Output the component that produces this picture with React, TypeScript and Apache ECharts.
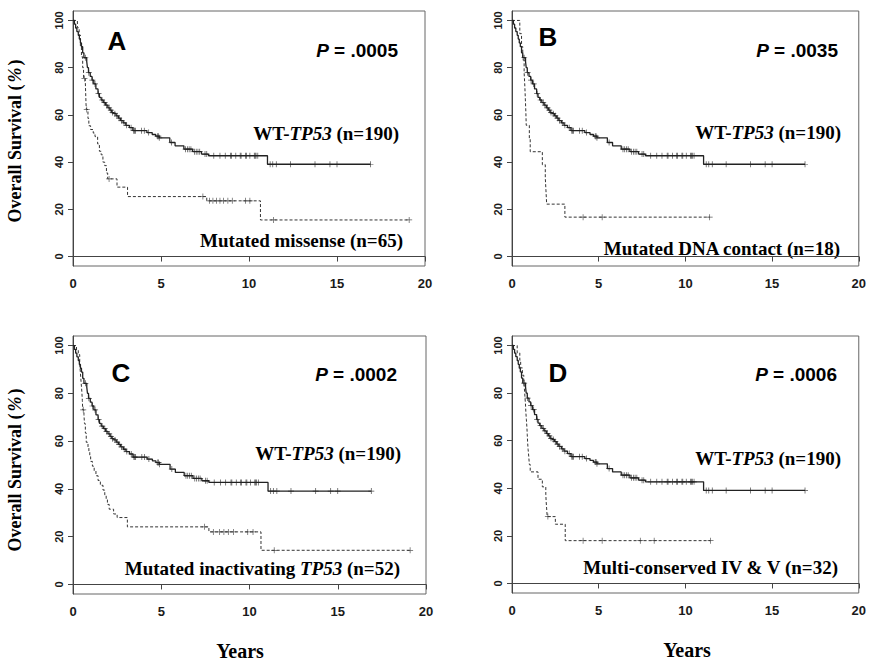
import React, { useEffect, useRef } from "react";
import * as echarts from "echarts";

// ---------- data ----------
const wtTimes = [0, 0.08, 0.15, 0.22, 0.3, 0.36, 0.42, 0.48, 0.55, 0.62, 0.78, 0.82, 0.88, 0.98, 1.08, 1.18, 1.3, 1.42, 1.5, 1.6, 1.72, 1.85, 1.98, 2.1, 2.2, 2.32, 2.45, 2.58, 2.7, 2.85, 3.0, 3.2, 3.4, 4.2, 4.5, 4.7, 4.9, 5.5, 5.8, 6.3, 6.8, 7.3, 7.7, 11.05];
const wtSurv = [100, 98.4, 96.8, 95.3, 93.7, 92.1, 90.5, 88.9, 86.3, 84.2, 82.6, 80.0, 77.9, 76.3, 74.7, 73.1, 71.0, 69.0, 67.4, 66.3, 65.2, 64.1, 63.0, 62.0, 61.0, 60.5, 59.6, 58.6, 57.6, 56.6, 55.6, 54.6, 53.3, 52.5, 51.7, 51.0, 50.3, 48.3, 46.9, 45.5, 44.4, 43.4, 42.7, 39.1];
const wtEnd = 16.9;
const wtCensor = [0.7, 0.9, 1.1, 1.25, 1.45, 1.65, 1.8, 1.9, 2.05, 2.15, 2.25, 2.38, 2.5, 2.62, 2.75, 2.9, 3.05, 3.3, 3.45, 3.5, 3.55, 3.9, 4.05, 4.3, 4.8, 4.85, 4.9, 5.6, 6.4, 6.5, 6.6, 6.7, 6.9, 7.0, 7.1, 7.2, 7.5, 7.6, 8.0, 8.35, 8.65, 8.95, 9.0, 9.25, 9.5, 9.55, 9.8, 9.85, 10.05, 10.3, 10.35, 10.4, 10.5, 11.2, 11.35, 11.55, 12.35, 13.75, 14.6, 15.0, 16.9];

const missTimes = [0, 0.25, 0.35, 0.42, 0.48, 0.55, 0.6, 0.7, 0.72, 0.74, 0.76, 0.85, 0.9, 1.0, 1.15, 1.25, 1.4, 1.5, 1.6, 1.7, 1.8, 1.9, 1.97, 2.5, 3.1, 7.6, 10.65];
const missSurv = [100, 96.9, 93.8, 89.2, 84.6, 80.0, 75.4, 73.8, 69.2, 64.6, 62.3, 58.5, 55.4, 53.8, 52.3, 50.8, 47.7, 44.6, 43.1, 40.0, 38.5, 35.4, 32.9, 29.4, 25.4, 23.6, 15.5];
const missEnd = 19.1;
const missCensor = [0.65, 0.78, 2.05, 7.38, 7.75, 7.95, 8.15, 8.35, 8.55, 8.8, 9.05, 9.8, 10.05, 11.4, 19.1];

const dnaTimes = [0, 0.45, 0.55, 0.62, 0.7, 0.74, 0.77, 0.8, 0.82, 1.0, 1.05, 1.75, 1.92, 1.96, 2.0, 3.05];
const dnaSurv = [100, 94.4, 88.9, 83.3, 77.8, 72.2, 66.7, 61.1, 55.6, 50.0, 44.4, 38.9, 33.3, 27.8, 22.2, 16.7];
const dnaEnd = 11.4;
const dnaCensor = [4.1, 5.2, 11.4];

const inactTimes = [0, 0.2, 0.3, 0.38, 0.42, 0.46, 0.5, 0.53, 0.55, 0.62, 0.65, 0.7, 0.75, 0.85, 0.9, 0.95, 1.0, 1.1, 1.2, 1.3, 1.42, 1.55, 1.7, 1.8, 1.88, 1.95, 2.05, 2.3, 2.5, 3.08, 7.7, 10.65];
const inactSurv = [100, 98.1, 96.2, 92.3, 88.5, 84.6, 80.8, 76.9, 73.1, 71.2, 67.3, 63.4, 59.5, 57.5, 55.5, 53.5, 51.5, 49.5, 47.5, 45.5, 43.5, 41.5, 39.5, 37.5, 35.5, 33.5, 31.5, 29.5, 28.0, 24.1, 22.0, 14.3];
const inactEnd = 19.1;
const inactCensor = [0.58, 7.45, 7.95, 8.3, 8.55, 8.8, 9.1, 9.9, 10.2, 11.4, 19.1];

const multiTimes = [0, 0.3, 0.45, 0.5, 0.6, 0.68, 0.72, 0.75, 0.78, 0.8, 0.83, 0.86, 0.88, 0.9, 0.93, 0.97, 1.0, 1.05, 1.5, 1.75, 1.95, 1.97, 2.0, 2.03, 2.5, 3.07];
const multiSurv = [100, 96.9, 93.8, 90.6, 87.5, 84.4, 81.3, 78.1, 75.0, 71.9, 68.8, 65.6, 62.5, 59.4, 56.3, 53.1, 50.0, 46.9, 43.8, 40.6, 37.5, 34.4, 31.3, 28.1, 24.9, 18.0];
const multiEnd = 11.45;
const multiCensor = [2.07, 4.1, 5.2, 7.4, 8.2, 11.45];

const panelLetters = ["A", "B", "C", "D"];
const pValues = [".0005", ".0035", ".0002", ".0006"];
const wtLabel = "{b|WT-}{i|TP53}{b| (n=190)}";
const mutLabels = [
  "{b|Mutated missense (n=65)}",
  "{b|Mutated DNA contact (n=18)}",
  "{b|Mutated inactivating }{i|TP53}{b| (n=52)}",
  "{b|Multi-conserved IV & V (n=32)}",
];
const yTitle = "{b|Overall Survival (}{i|%}{b|)}";
const xTitle = "Years";
const xTicks = [0, 5, 10, 15, 20];
const yTicks = [0, 20, 40, 60, 80, 100];

// ---------- helpers ----------
function stepData(times: number[], surv: number[], end: number) {
  const d = times.map((t, i) => [t, surv[i]]);
  d.push([end, surv[surv.length - 1]]);
  return d;
}
function survAt(times: number[], surv: number[], t: number) {
  let s = surv[0];
  for (let i = 0; i < times.length; i++) if (times[i] <= t) s = surv[i];
  return s;
}
function censorData(times: number[], surv: number[], cens: number[]) {
  return cens.map((t) => [t, survAt(times, surv, t)]);
}

const muts = [
  { times: missTimes, surv: missSurv, end: missEnd, cens: missCensor },
  { times: dnaTimes, surv: dnaSurv, end: dnaEnd, cens: dnaCensor },
  { times: inactTimes, surv: inactSurv, end: inactEnd, cens: inactCensor },
  { times: multiTimes, surv: multiSurv, end: multiEnd, cens: multiCensor },
];

const grids = [
  { left: 73, top: 11, width: 352, height: 255 },
  { left: 512, top: 11, width: 355, height: 255 },
  { left: 73, top: 336, width: 353, height: 258 },
  { left: 512, top: 336, width: 355, height: 257 },
];

const PLUS = "path://M4.4,0h1.2v4.4h4.4v1.2h-4.4v4.4h-1.2v-4.4h-4.4v-1.2h4.4z";
const SANS = "'Liberation Sans', Arial, sans-serif";
const SERIF = "'Liberation Serif', 'Times New Roman', serif";
const INK = "#1a1a1a";

const letterPos = [[117, 41], [548, 37], [121, 373], [558, 373]];
const pPos = [[398, 50], [838, 50], [397, 374], [837, 374]];
const wtPos = [[399, 133], [841, 132], [401, 453], [841, 458]];
const mutPos = [[403, 240], [840, 248], [400, 568], [838, 567]];
const yTitlePos = [[15, 141], [15, 470]];
const xTitlePos = [[240, 651], [687, 650]];

function buildOption() {
  const xAxis: any[] = [];
  const yAxis: any[] = [];
  const series: any[] = [];
  const graphic: any[] = [];

  const rich = {
    b: { fontFamily: SERIF, fontWeight: "bold", fontSize: 19, fill: "#000" },
    i: { fontFamily: SERIF, fontWeight: "bold", fontStyle: "italic", fontSize: 19, fill: "#000" },
  };

  grids.forEach((g, i) => {
    xAxis.push({
      type: "value",
      gridIndex: i,
      min: 0,
      max: 20,
      interval: 5,
      axisLine: { show: true, lineStyle: { color: "#444", width: 1 } },
      axisTick: { show: true, length: 5, lineStyle: { color: "#444" } },
      axisLabel: {
        show: true,
        margin: 11,
        fontFamily: SANS,
        fontWeight: "bold",
        fontSize: 13,
        color: INK,
        customValues: xTicks,
      },
      splitLine: { show: false },
    });
    yAxis.push({
      type: "value",
      gridIndex: i,
      min: -4,
      max: 104,
      axisLine: { show: true, lineStyle: { color: "#444", width: 1 } },
      axisTick: { show: true, length: 5, lineStyle: { color: "#444" }, customValues: yTicks },
      axisLabel: {
        show: true,
        rotate: 90,
        margin: 9,
        fontFamily: SANS,
        fontWeight: "bold",
        fontSize: 11,
        color: INK,
        customValues: yTicks,
      },
      splitLine: { show: false },
    });

    series.push({
      type: "line",
      xAxisIndex: i,
      yAxisIndex: i,
      step: "end",
      showSymbol: false,
      symbol: "none",
      lineStyle: { color: "#222", width: 1.3 },
      data: stepData(wtTimes, wtSurv, wtEnd),
      z: 3,
    });
    series.push({
      type: "scatter",
      xAxisIndex: i,
      yAxisIndex: i,
      symbol: PLUS,
      symbolSize: 6,
      itemStyle: { color: "#222" },
      data: censorData(wtTimes, wtSurv, wtCensor),
      z: 4,
    });
    const m = muts[i];
    series.push({
      type: "line",
      xAxisIndex: i,
      yAxisIndex: i,
      step: "end",
      showSymbol: false,
      symbol: "none",
      lineStyle: { color: "#333", width: 1, type: [3, 2] },
      data: stepData(m.times, m.surv, m.end),
      z: 2,
    });
    series.push({
      type: "scatter",
      xAxisIndex: i,
      yAxisIndex: i,
      symbol: PLUS,
      symbolSize: 6,
      itemStyle: { color: "#333" },
      data: censorData(m.times, m.surv, m.cens),
      z: 4,
    });

    graphic.push({
      type: "text",
      x: letterPos[i][0],
      y: letterPos[i][1],
      style: {
        text: panelLetters[i],
        fill: "#000",
        fontFamily: SANS,
        fontWeight: "bold",
        fontSize: 26,
        textAlign: "center",
        textVerticalAlign: "middle",
      },
    });
    graphic.push({
      type: "text",
      x: pPos[i][0],
      y: pPos[i][1],
      style: {
        text: "{pi|P}{pb| = " + pValues[i] + "}",
        textAlign: "right",
        textVerticalAlign: "middle",
        rich: {
          pi: { fontFamily: SANS, fontWeight: "bold", fontStyle: "italic", fontSize: 19, fill: "#000" },
          pb: { fontFamily: SANS, fontWeight: "bold", fontSize: 19, fill: "#000" },
        },
      },
    });
    graphic.push({
      type: "text",
      x: wtPos[i][0],
      y: wtPos[i][1],
      style: { text: wtLabel, textAlign: "right", textVerticalAlign: "middle", rich },
    });
    graphic.push({
      type: "text",
      x: mutPos[i][0],
      y: mutPos[i][1],
      style: { text: mutLabels[i], textAlign: "right", textVerticalAlign: "middle", rich },
    });
  });

  yTitlePos.forEach((p) => {
    graphic.push({
      type: "text",
      x: p[0],
      y: p[1],
      rotation: Math.PI / 2,
      style: {
        text: yTitle,
        textAlign: "center",
        textVerticalAlign: "middle",
        rich: {
          b: { fontFamily: SERIF, fontWeight: "bold", fontSize: 18, fill: "#000" },
          i: { fontFamily: SERIF, fontWeight: "bold", fontStyle: "italic", fontSize: 18, fill: "#000", padding: [0, 2] },
        },
      },
    });
  });
  xTitlePos.forEach((p) => {
    graphic.push({
      type: "text",
      x: p[0],
      y: p[1],
      style: {
        text: xTitle,
        fill: "#000",
        fontFamily: SERIF,
        fontWeight: "bold",
        fontSize: 20,
        textAlign: "center",
        textVerticalAlign: "middle",
      },
    });
  });

  return {
    animation: false,
    backgroundColor: "#ffffff",
    grid: grids.map((g) => ({ ...g, show: true, borderColor: "#666", borderWidth: 1, backgroundColor: "transparent" })),
    xAxis,
    yAxis,
    series,
    graphic,
  };
}

export default function App() {
  const ref = useRef<HTMLDivElement>(null);
  useEffect(() => {
    if (!ref.current) return;
    const chart = echarts.init(ref.current, null, { renderer: "svg" });
    chart.setOption(buildOption() as any);
    return () => chart.dispose();
  }, []);
  return (
    <div
      ref={ref}
      style={{ position: "fixed", left: 0, top: 0, width: 869, height: 663, background: "#fff" }}
    />
  );
}
